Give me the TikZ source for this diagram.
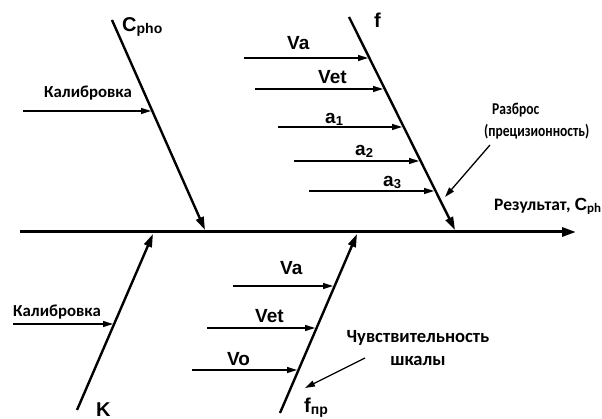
\documentclass[tikz,border=0pt]{standalone}
\usepackage{fontspec}
\usepackage{graphicx}
\setmainfont{Carlito}
\newfontfamily\arialf{Liberation Sans}
\usetikzlibrary{arrows.meta}
\newcommand{\lowsub}[2]{\raisebox{-2pt}{\fontsize{#1}{#1}\selectfont #2}}
\newcommand{\narrow}[1]{\scalebox{0.82}[1]{#1}}
\begin{document}
\begin{tikzpicture}[x=1pt,y=-1pt,
  spine/.style={line width=3pt, -{Triangle[length=14pt,width=9pt]}},
  bonehead/.style={line width=2.4pt, -{Triangle[length=13pt,width=8pt]}},
  twig/.style={line width=1.5pt, -{Triangle[length=10pt,width=6pt]}},
  pointer/.style={line width=1.3pt, -{Triangle[length=10pt,width=6pt]}},
  lat/.style={font=\arialf\bfseries\fontsize{19}{21}\selectfont, inner sep=0pt},
  big/.style={font=\arialf\bfseries\fontsize{20}{22}\selectfont, inner sep=0pt},
  ru/.style={font=\bfseries, inner sep=0pt, align=center},
]
\useasboundingbox (0,0) rectangle (602,419);

% main axis
\coordinate (s0) at (20,232);
\coordinate (s1) at (576,232);
\draw[spine] (s0) -- (s1);

% bones
\coordinate (c0) at (112,20);  \coordinate (c1) at (205,230);
\coordinate (f0) at (349,17);  \coordinate (f1) at (455,230);
\coordinate (k0) at (77,410);  \coordinate (k1) at (153,234);
\coordinate (p0) at (280,413); \coordinate (p1) at (357,234);
\draw[bonehead] (c0) -- (c1);
\draw[bonehead] (f0) -- (f1);
\draw[bonehead] (k0) -- (k1);
\draw[bonehead] (p0) -- (p1);

% causes on the upper left bone
\coordinate (cal1s) at (23,111);  \coordinate (cal1e) at (151,111);
\draw[twig] (cal1s) -- (cal1e);

% causes on the upper right bone
\coordinate (vas) at (244,58);   \coordinate (vae) at (368,58);
\coordinate (vets) at (255,89);  \coordinate (vete) at (383,89);
\coordinate (a1s) at (278,127);  \coordinate (a1e) at (402,127);
\coordinate (a2s) at (294,161);  \coordinate (a2e) at (419,161);
\coordinate (a3s) at (309,191);  \coordinate (a3e) at (434,191);
\draw[twig] (vas) -- (vae);
\draw[twig] (vets) -- (vete);
\draw[twig] (a1s) -- (a1e);
\draw[twig] (a2s) -- (a2e);
\draw[twig] (a3s) -- (a3e);

% causes on the lower left bone
\coordinate (cal2s) at (13,324); \coordinate (cal2e) at (113,324);
\draw[twig] (cal2s) -- (cal2e);

% causes on the lower right bone
\coordinate (vbs) at (233,286);  \coordinate (vbe) at (333,286);
\coordinate (vtbs) at (207,328); \coordinate (vtbe) at (315,328);
\coordinate (vos) at (192,370);  \coordinate (voe) at (297,370);
\draw[twig] (vbs) -- (vbe);
\draw[twig] (vtbs) -- (vtbe);
\draw[twig] (vos) -- (voe);

% bone names
\node[big, anchor=base west] (cpho) at (122,32) {C\lowsub{14}{pho}};
\node[big, anchor=base west] (fname) at (374,28) {f};
\node[big, anchor=base west] (kname) at (96,416) {K};
\node[big, anchor=base west] (fpr) at (304,412) {f\lowsub{14}{пр}};

% cause labels
\node[ru, font=\bfseries\fontsize{16.8}{19}\selectfont] (cal1) at (88,93) {Калибровка};
\node[ru, font=\bfseries\fontsize{16.8}{19}\selectfont] (cal2) at (57,312) {Калибровка};
\node[lat, anchor=base west] (va) at (287,50) {Va};
\node[lat, anchor=base west] (vet) at (318,84) {Vet};
\node[lat, anchor=base west] (a1) at (325,124) {a\lowsub{13}{1}};
\node[lat, anchor=base west] (a2) at (355,156) {a\lowsub{13}{2}};
\node[lat, anchor=base west] (a3) at (383,187) {a\lowsub{13}{3}};
\node[lat, anchor=base west] (vab) at (280,275) {Va};
\node[lat, anchor=base west] (vetb) at (255,323) {Vet};
\node[lat, anchor=base west] (vo) at (227,366) {Vo};

% notes with pointers
\node[ru, align=left, anchor=west, font=\bfseries\fontsize{16.5}{22}\selectfont] (spread) at (484,121) {\hspace*{8pt}\narrow{Разброс}\\\narrow{(прецизионность)}};
\coordinate (spt) at (445,197);
\draw[pointer] (490,145) -- (spt);
\node[ru, font=\bfseries\fontsize{18.6}{23}\selectfont] (sens) at (418,348) {Чувствительность\\шкалы};
\coordinate (snt) at (305,388);
\draw[pointer] (365,358) -- (snt);

% result
\node[ru, font=\bfseries\fontsize{17.5}{20}\selectfont, anchor=west] (res) at (494,206) {Результат, {\arialf C}\lowsub{13}{ph}};
\end{tikzpicture}
\end{document}
